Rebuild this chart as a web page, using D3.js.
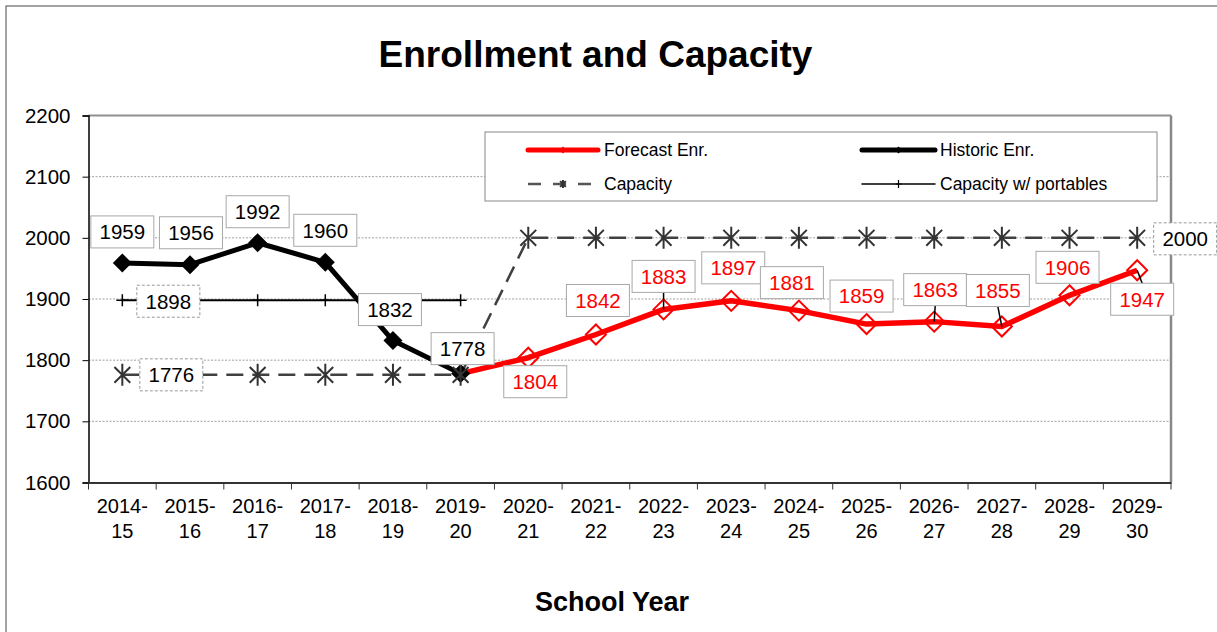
<!DOCTYPE html>
<html><head><meta charset="utf-8">
<script src="https://cdn.jsdelivr.net/npm/d3@7"></script>
<style>
html,body{margin:0;padding:0;background:#fff;}
svg{display:block;font-family:"Liberation Sans",Arial,sans-serif;}
</style></head>
<body>
<svg id="chart" width="1217" height="632"></svg>
<script>
// ---- data ----
const years = ["2014-15","2015-16","2016-17","2017-18","2018-19","2019-20","2020-21","2021-22","2022-23","2023-24","2024-25","2025-26","2026-27","2027-28","2028-29","2029-30"];
const historic = [1959,1956,1992,1960,1832,1778,null,null,null,null,null,null,null,null,null,null];
const forecast = [null,null,null,null,null,1778,1804,1842,1883,1897,1881,1859,1863,1855,1906,1947];
const capacity = [1776,1776,1776,1776,1776,1776,2000,2000,2000,2000,2000,2000,2000,2000,2000,2000];
const portables = [1898,1898,1898,1898,1898,1898,null,null,null,null,null,null,null,null,null,null];
const yTicks = [1600,1700,1800,1900,2000,2100,2200];
const seriesNames = ["Forecast Enr.","Historic Enr.","Capacity","Capacity w/ portables"];

// ---- layout (label placement offsets, in px, relative to point) ----
const histLabelOff = [[0,-31],[1,-32],[0,-31],[0,-32],[-3,-31],[2,-25]];
const fcLabelOff = {6:[7,24],7:[2,-34],8:[0,-33,1],9:[2,-33],10:[-7,-28],11:[-5,-28],12:[1,-32,1],13:[-4,-36,1],14:[-2,-28],15:[5,29,1]};

const svg = d3.select("#chart");
const W = 1217, H = 632;
const L = 88.5, R = 1171, T = 115.5, B = 482.5;

// outer frame
svg.append("rect").attr("x",6).attr("y",6).attr("width",W+20).attr("height",H+20)
  .attr("fill","#fff").attr("stroke","#666").attr("stroke-width",1.2);

const x = d3.scaleBand().domain(years).range([L,R]).paddingInner(0).paddingOuter(0);
const cx = d => x(d) + x.bandwidth()/2;
const y = d3.scaleLinear().domain([1600,2200]).range([B,T]);

// title
svg.append("text").attr("x",595.5).attr("y",67).attr("text-anchor","middle")
  .attr("font-weight","bold").attr("font-size",37).text("Enrollment and Capacity");
svg.append("text").attr("x",612).attr("y",611).attr("text-anchor","middle")
  .attr("font-weight","bold").attr("font-size",27).text("School Year");

// gridlines
svg.append("g").selectAll("line").data(yTicks.filter(t=>t>1600 && t<2200)).join("line")
  .attr("x1",L).attr("x2",R).attr("y1",d=>y(d)).attr("y2",d=>y(d))
  .attr("stroke","#a0a0a0").attr("stroke-width",1).attr("stroke-dasharray","2,1.5");

// plot borders
svg.append("line").attr("x1",L).attr("x2",R).attr("y1",T).attr("y2",T).attr("stroke","#909090").attr("stroke-width",2);
svg.append("line").attr("x1",R).attr("x2",R).attr("y1",T).attr("y2",B).attr("stroke","#888").attr("stroke-width",2.5);

// y axis
const yAxis = d3.axisLeft(y).tickValues(yTicks).tickSize(6).tickPadding(12).tickFormat(d3.format("d"));
const gy = svg.append("g").attr("transform",`translate(${L},0)`).call(yAxis);
gy.select(".domain").attr("stroke","#000").attr("stroke-width",1.5);
gy.selectAll(".tick line").attr("stroke","#000");
gy.selectAll(".tick text").attr("font-size",20.5).attr("font-family","Liberation Sans, Arial, sans-serif").attr("fill","#000");

// x axis
const xAxis = d3.axisBottom(x).tickSize(0).tickFormat("");
const gx = svg.append("g").attr("transform",`translate(0,${B})`).call(xAxis);
gx.select(".domain").attr("stroke","#333").attr("stroke-width",2);
// boundary ticks
gx.append("g").selectAll("line").data(d3.range(years.length+1)).join("line")
  .attr("x1",i=>L+i*x.bandwidth()).attr("x2",i=>L+i*x.bandwidth()).attr("y1",0).attr("y2",7)
  .attr("stroke","#333").attr("stroke-width",1);
// two-line labels
const xl = svg.append("g").selectAll("text").data(years).join("text")
  .attr("x",d=>cx(d)).attr("y",B+30).attr("text-anchor","middle").attr("font-size",20);
xl.append("tspan").attr("x",d=>cx(d)).text(d=>d.split("-")[0]+"-");
xl.append("tspan").attr("x",d=>cx(d)).attr("dy",25).text(d=>d.split("-")[1]);

const pts = arr => arr.map((v,i)=>({i,v,yr:years[i]})).filter(d=>d.v!==null);
const line = d3.line().x(d=>cx(d.yr)).y(d=>y(d.v));

// capacity line
svg.append("path").datum(pts(capacity)).attr("d",line).attr("fill","none")
  .attr("stroke","#404040").attr("stroke-width",2.5).attr("stroke-dasharray","17,9");
// portables line
svg.append("path").datum(pts(portables)).attr("d",line).attr("fill","none")
  .attr("stroke","#000").attr("stroke-width",2);
// historic line
svg.append("path").datum(pts(historic)).attr("d",line).attr("fill","none")
  .attr("stroke","#000").attr("stroke-width",5).attr("stroke-linejoin","round");
// forecast line
svg.append("path").datum(pts(forecast)).attr("d",line).attr("fill","none")
  .attr("stroke","#ff0000").attr("stroke-width",5.5).attr("stroke-linejoin","round");

// markers
const diamond = s => `M0,${-s}L${s},0L0,${s}L${-s},0Z`;
svg.append("g").selectAll("path").data(pts(historic)).join("path")
  .attr("transform",d=>`translate(${cx(d.yr)},${y(d.v)})`).attr("d",diamond(9.5)).attr("fill","#000");
svg.append("g").selectAll("path").data(pts(forecast).filter(d=>historic[d.i]===null)).join("path")
  .attr("transform",d=>`translate(${cx(d.yr)},${y(d.v)})`).attr("d",diamond(10))
  .attr("fill","none").attr("stroke","#ff0000").attr("stroke-width",2);
const star = s => { const k=s*0.72; return `M0,${-s}L0,${s}M${-k},${-k}L${k},${k}M${-k},${k}L${k},${-k}`; };
svg.append("g").selectAll("path").data(pts(capacity)).join("path")
  .attr("transform",d=>`translate(${cx(d.yr)},${y(d.v)})`).attr("d",star(11))
  .attr("fill","none").attr("stroke","#333").attr("stroke-width",2);
svg.append("g").selectAll("path").data(pts(portables)).join("path")
  .attr("transform",d=>`translate(${cx(d.yr)},${y(d.v)})`).attr("d","M-6,0L6,0M0,-6L0,6")
  .attr("fill","none").attr("stroke","#000").attr("stroke-width",1.5);

// data labels
const BW = 63, BH = 32;
function label(px,py,dx,dy,text,color,dashed,leader){
  const bx = px+dx, by = py+dy;
  if(leader){
    const ey = dy<0 ? by+BH/2 : by-BH/2;
    svg.append("line").attr("x1",bx).attr("y1",ey).attr("x2",px).attr("y2",py)
      .attr("stroke","#000").attr("stroke-width",1.5);
  }
  const g = svg.append("g").attr("transform",`translate(${bx},${by})`);
  g.append("rect").attr("x",-BW/2).attr("y",-BH/2).attr("width",BW).attr("height",BH)
    .attr("fill","#fff").attr("stroke",dashed?"#999":"#a8a8a8").attr("stroke-width",1)
    .attr("stroke-dasharray",dashed?"3,2":null);
  g.append("text").attr("text-anchor","middle").attr("dy","0.36em").attr("font-size",20.5)
    .attr("fill",color).text(text);
}
pts(historic).forEach(d=>{ const o=histLabelOff[d.i]; label(cx(d.yr),y(d.v),o[0],o[1],d.v,"#000",false,false); });
pts(forecast).filter(d=>historic[d.i]===null).forEach(d=>{ const o=fcLabelOff[d.i]; label(cx(d.yr),y(d.v),o[0],o[1],d.v,"#ff0000",false,!!o[2]); });
{ const d=0; label(cx(years[d]),y(portables[d]),46,1,portables[d],"#000",true,false); }
{ const d=0; label(cx(years[d]),y(capacity[d]),49,0,capacity[d],"#000",true,false); }
{ const d=capacity.length-1; label(cx(years[d]),y(capacity[d]),48,1,capacity[d],"#000",true,false); }

// legend
const lg = svg.append("g");
lg.append("rect").attr("x",485).attr("y",132).attr("width",672).attr("height",69)
  .attr("fill","#fff").attr("stroke","#888").attr("stroke-width",1);
const legItems = [
  {name:seriesNames[0], x1:528, x2:598, tx:604, ly:150, stroke:"#ff0000", w:5, dash:null, mk:"dia"},
  {name:seriesNames[1], x1:862, x2:935, tx:940, ly:150, stroke:"#000", w:5, dash:null, mk:"dia"},
  {name:seriesNames[2], x1:528, x2:598, tx:604, ly:184, stroke:"#555", w:2.5, dash:"13,12", mk:"star"},
  {name:seriesNames[3], x1:862, x2:935, tx:940, ly:184, stroke:"#000", w:1.5, dash:null, mk:"plus"}
];
legItems.forEach(it=>{
  lg.append("line").attr("x1",it.x1).attr("x2",it.x2).attr("y1",it.ly).attr("y2",it.ly)
    .attr("stroke",it.stroke).attr("stroke-width",it.w).attr("stroke-linecap",it.dash?"butt":"round")
    .attr("stroke-dasharray",it.dash);
  const m = (it.x1+it.x2)/2;
  if(it.mk==="dia") lg.append("path").attr("transform",`translate(${m},${it.ly})`).attr("d",diamond(3.5)).attr("fill",it.stroke);
  if(it.mk==="star") lg.append("path").attr("transform",`translate(${m},${it.ly})`).attr("d",star(4)).attr("stroke","#333").attr("stroke-width",2);
  if(it.mk==="plus") lg.append("path").attr("transform",`translate(${m},${it.ly})`).attr("d","M-3,0L3,0M0,-4L0,4").attr("stroke","#000").attr("stroke-width",1.2);
  lg.append("text").attr("x",it.tx).attr("y",it.ly).attr("dy","0.36em").attr("font-size",17.5).text(it.name);
});
</script>
</body></html>
